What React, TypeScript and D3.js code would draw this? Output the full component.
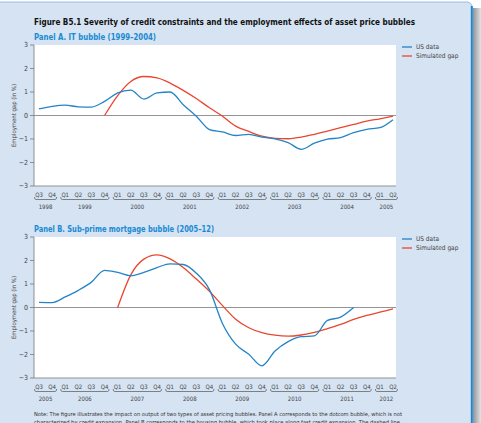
import React from 'react';
import * as d3 from 'd3';

// Panel A: IT bubble, quarterly from 1998 Q3 to 2005 Q2
const itYears = [1998, 1999, 2000, 2001, 2002, 2003, 2004, 2005];
const itUsData = [
  0.28, 0.39, 0.44, 0.37, 0.36, 0.6, 0.96, 1.08, 0.7, 0.96, 1.0, 0.46, -0.03, -0.6,
  -0.7, -0.85, -0.8, -0.92, -0.99, -1.15, -1.44, -1.18, -1.01, -0.94, -0.73, -0.59, -0.52, -0.18,
];
const itSimulated = [
  null, null, null, null, null, 0, 0.85, 1.45, 1.66, 1.6, 1.38, 1.07, 0.72, 0.33,
  -0.03, -0.45, -0.68, -0.88, -0.97, -0.99, -0.92, -0.8, -0.66, -0.52, -0.38, -0.24, -0.14, -0.03,
];

// Panel B: sub-prime bubble, quarterly from 2005 Q3 to 2012 Q2
const subYears = [2005, 2006, 2007, 2008, 2009, 2010, 2011, 2012];
const subUsData = [
  0.22, 0.21, 0.45, 0.73, 1.08, 1.58, 1.49, 1.35, 1.49, 1.7, 1.86, 1.83, 1.46, 0.76,
  -0.69, -1.56, -1.99, -2.48, -1.85, -1.45, -1.24, -1.21, -0.55, -0.41, 0.0, null, null, null,
];
const subSimulated = [
  null, null, null, null, null, null, 0, 1.39, 2.06, 2.24, 2.07, 1.7, 1.21, 0.69,
  0.08, -0.5, -0.86, -1.07, -1.18, -1.22, -1.17, -1.06, -0.9, -0.72, -0.51, -0.34, -0.2, -0.06,
];

const yTicks = [-3, -2, -1, 0, 1, 2, 3];
const seriesNames = ['US data', 'Simulated gap'];

const BLUE = '#2384c6';
const RED = '#e8472f';
const PANEL_BG = '#d5e3f3';
const FONT = '"Liberation Sans Narrow", "DejaVu Sans Condensed", "Liberation Sans", Arial, sans-serif';

type Q = { year: number; q: number };

// every quarter from Q3 of the first year to Q2 of the last
function quartersOf(years: number[]): Q[] {
  const out: Q[] = [];
  years.forEach((yr, i) => {
    const from = i === 0 ? 3 : 1;
    const to = i === years.length - 1 ? 2 : 4;
    for (let q = from; q <= to; q++) out.push({ year: yr, q });
  });
  return out;
}

interface PanelProps {
  top: number;
  bottom: number;
  title: string;
  titleWidth: number;
  years: number[];
  us: (number | null)[];
  sim: (number | null)[];
}

const LEFT = 34;
const RIGHT = 396;

function Panel({ top, bottom, title, titleWidth, years, us, sim }: PanelProps) {
  const quarters = quartersOf(years);
  const x = d3.scalePoint<number>().domain(d3.range(quarters.length)).range([39, 393]);
  const y = d3.scaleLinear().domain([-3, 3]).range([bottom, top]);

  const line = d3
    .line<number | null>()
    .defined(v => v != null)
    .x((_, i) => x(i)!)
    .y(v => y(v as number))
    .curve(d3.curveMonotoneX);

  const bracketY = bottom + 13.5;
  const yearGroups = years.map(yr => {
    const idx = quarters.map((q, i) => (q.year === yr ? i : -1)).filter(i => i >= 0);
    return { year: yr, x0: x(idx[0])! - 4.5, x1: x(idx[idx.length - 1])! + 4.5 };
  });

  return (
    <g>
      <text
        x={LEFT}
        y={top - 5}
        fontSize={8}
        fontWeight="bold"
        fill="#1a8ad2"
        fontFamily={FONT}
        textLength={titleWidth}
        lengthAdjust="spacingAndGlyphs"
      >
        {title}
      </text>
      <rect x={LEFT} y={top} width={RIGHT - LEFT} height={bottom - top} fill="#fff" />

      {/* y axis */}
      <line x1={LEFT} x2={LEFT} y1={top} y2={bottom} stroke="#777" strokeWidth={0.8} />
      {yTicks.map(t => (
        <g key={t}>
          <line x1={LEFT - 4} x2={LEFT} y1={y(t)} y2={y(t)} stroke="#777" strokeWidth={0.8} />
          <text x={LEFT - 6} y={y(t) + 2.4} fontSize={7} textAnchor="end" fill="#444" fontFamily={FONT}>
            {t < 0 ? `\u2212${-t}` : t}
          </text>
        </g>
      ))}
      <text
        transform={`translate(16,${(top + bottom) / 2}) rotate(-90)`}
        fontSize={6}
        textAnchor="middle"
        fill="#444"
        fontFamily={FONT}
        textLength={63}
        lengthAdjust="spacingAndGlyphs"
      >
        Employment  gap (in %)
      </text>

      {/* zero and bottom lines */}
      <line x1={LEFT} x2={RIGHT} y1={y(0)} y2={y(0)} stroke="#888" strokeWidth={0.9} />
      <line x1={LEFT} x2={RIGHT} y1={bottom} y2={bottom} stroke="#888" strokeWidth={0.9} />

      <path d={line(sim) ?? ''} fill="none" stroke={RED} strokeWidth={1.3} />
      <path d={line(us) ?? ''} fill="none" stroke={BLUE} strokeWidth={1.3} />

      {/* quarter labels and year brackets */}
      {quarters.map((q, i) => (
        <text key={i} x={x(i)} y={bottom + 11} fontSize={6} textAnchor="middle" fill="#444" fontFamily={FONT}>
          {`Q${q.q}`}
        </text>
      ))}
      {yearGroups.map(g => (
        <g key={g.year}>
          <path
            d={`M${g.x0},${bracketY - 2.5} Q${g.x0},${bracketY} ${g.x0 + 1.5},${bracketY} L${g.x1 - 1.5},${bracketY} Q${g.x1},${bracketY} ${g.x1},${bracketY - 2.5}`}
            fill="none"
            stroke="#555"
            strokeWidth={0.7}
          />
          <text x={(g.x0 + g.x1) / 2} y={bottom + 23} fontSize={6} textAnchor="middle" fill="#444" fontFamily={FONT}>
            {g.year}
          </text>
        </g>
      ))}

      {/* legend */}
      {seriesNames.map((name, i) => (
        <g key={name} transform={`translate(402,${top + 2 + i * 9})`}>
          <line x1={0} x2={10} y1={0} y2={0} stroke={i === 0 ? BLUE : RED} strokeWidth={1.3} />
          <text x={14} y={2.2} fontSize={6.5} fill="#444" fontFamily={FONT}>
            {name}
          </text>
        </g>
      ))}
    </g>
  );
}

export default function App() {
  const W = 481;
  const H = 423;
  return (
    <svg width={W} height={H} style={{ position: 'absolute', left: 0, top: 0 }}>
      <defs>
        <linearGradient id="shade" x1="0" x2="1" y1="0" y2="0">
          <stop offset="0" stopColor="#8f9398" />
          <stop offset="1" stopColor="#e2e4e6" />
        </linearGradient>
      </defs>
      <rect width={W} height={H} fill="#fff" />
      <rect x={473} y={8} width={8} height={H} fill="url(#shade)" />
      <rect x={-6} y={2} width={478} height={H + 10} rx={5} fill={PANEL_BG} stroke="#7db3df" strokeWidth={0.8} />
      <line x1={471.8} x2={471.8} y1={6} y2={H} stroke="#1a88cf" strokeWidth={2} />

      <text x={LEFT} y={25} fontSize={9} fontWeight="bold" fill="#111" fontFamily={FONT} textLength={381} lengthAdjust="spacingAndGlyphs">
        Figure B5.1  Severity of credit constraints and the employment effects of asset price bubbles
      </text>

      <Panel top={45} bottom={186} title="Panel A. IT bubble (1999–2004)" titleWidth={122} years={itYears} us={itUsData} sim={itSimulated} />
      <Panel top={237} bottom={378} title="Panel B. Sub-prime mortgage bubble (2005–12)" titleWidth={180} years={subYears} us={subUsData} sim={subSimulated} />

      <text x={LEFT} y={416} fontSize={5.4} fill="#333" fontFamily={FONT} textLength={368} lengthAdjust="spacingAndGlyphs">
        Note: The figure illustrates the impact on output of two types of asset pricing bubbles. Panel A corresponds to the dotcom bubble, which is not
      </text>
      <text x={LEFT} y={423.5} fontSize={5.4} fill="#333" fontFamily={FONT} textLength={366} lengthAdjust="spacingAndGlyphs">
        characterized by credit expansion. Panel B corresponds to the housing bubble, which took place along fast credit expansion. The dashed line
      </text>
    </svg>
  );
}
